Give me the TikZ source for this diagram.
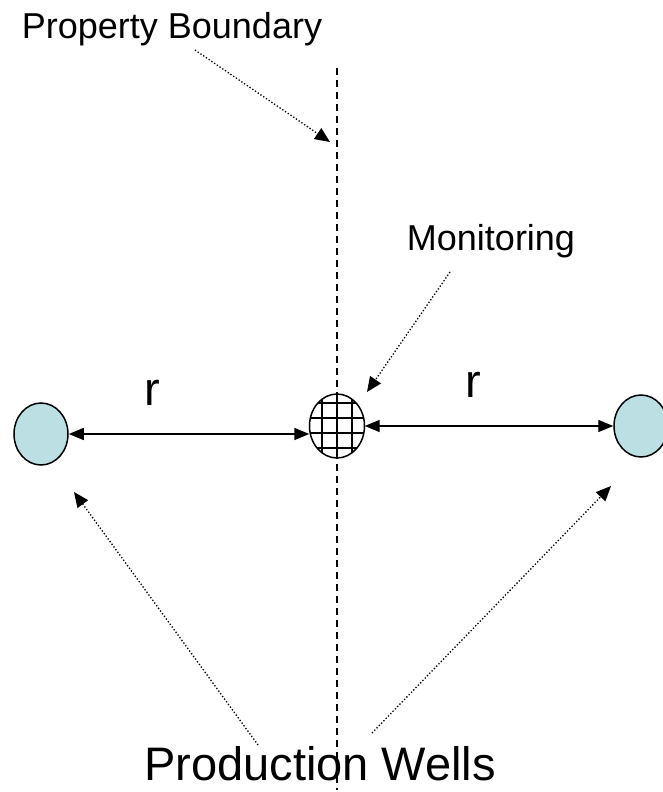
\documentclass[tikz,border=0pt]{standalone}
\usepackage{fontspec}
\setmainfont{Liberation Sans}
\usetikzlibrary{positioning, arrows.meta, shapes.geometric}
\definecolor{wellblue}{RGB}{188,223,227}

\begin{document}
\begin{tikzpicture}[x=1pt,y=-1pt,
  well/.style={ellipse,draw,line width=1.5pt,fill=wellblue,minimum width=54pt,minimum height=62pt,inner sep=0pt},
  pointer/.style={-{Triangle[length=15pt,width=13pt]},dotted,line width=1.3pt},
  span/.style={{Triangle[length=15pt,width=12pt]}-{Triangle[length=15pt,width=12pt]},line width=1.4pt},
  lbl/.style={anchor=base,inner sep=0pt,font=\fontsize{36}{40}\selectfont},
  biglbl/.style={anchor=base,inner sep=0pt,font=\fontsize{47}{52}\selectfont}]
\useasboundingbox (0,0) rectangle (662,792);
% property boundary
\draw[dash pattern=on 7pt off 5pt,line width=1.5pt] (337,68) -- (337,790);
% wells
\node[well] (lw) at (41,434) {};
\node[well] (rw) at (641,426) {};
\node[ellipse,minimum width=55pt,minimum height=64pt,inner sep=0pt] (mon) at (337,426) {};
\begin{scope}
  \clip (337,426) ellipse (27.5 and 32);
  \foreach \dx in {-15,0,15}{
    \draw[line width=1.5pt] (337+\dx,390) -- (337+\dx,462);
  }
  \foreach \dy in {-23,-8,7,22}{
    \draw[line width=1.5pt] (305,426+\dy) -- (369,426+\dy);
  }
\end{scope}
\draw[line width=1.5pt] (337,426) ellipse (27.5 and 32);
% distances
\draw[span] (lw.east) -- (mon.west |- lw.east);
\draw[span] (mon.east) -- (rw.west);
\node[biglbl] (rl) at (152,405) {r};
\node[biglbl] (rr) at (473,397) {r};
% labels
\node[lbl] (pb) at (172,38) {Property Boundary};
\node[lbl] (mt) at (491,250) {Monitoring};
\node[biglbl] (pw) at (320,780) {Production Wells};
\coordinate (pbstart) at (195,50);
\coordinate (pbtip) at (330,142);
\coordinate (mtstart) at (450,272);
\coordinate (mttip) at (367,392);
\coordinate (pwleft) at (258,745);
\coordinate (pwright) at (372,733);
\coordinate (lwtip) at (74,492);
\coordinate (rwtip) at (611,486);
\draw[pointer] (pbstart) -- (pbtip);
\draw[pointer] (mtstart) -- (mttip);
\draw[pointer] (pwleft) -- (lwtip);
\draw[pointer] (pwright) -- (rwtip);
\end{tikzpicture}
\end{document}
